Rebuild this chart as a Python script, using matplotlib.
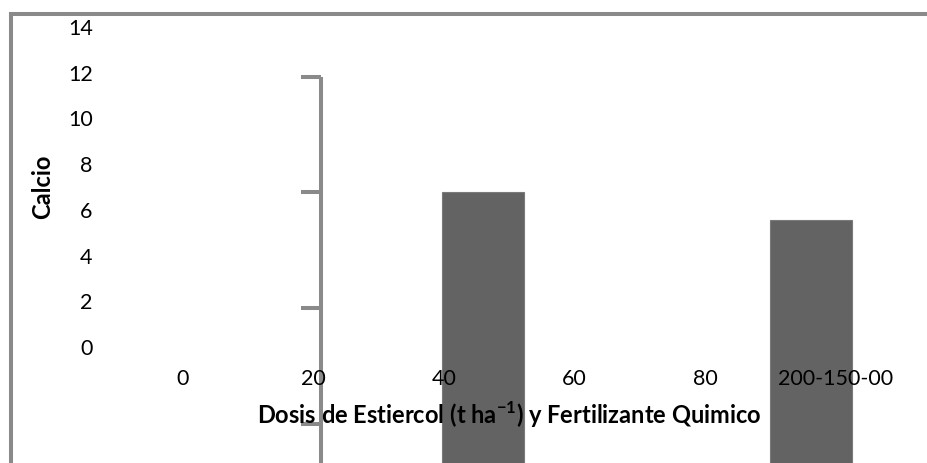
import matplotlib.pyplot as plt
from matplotlib.lines import Line2D
import numpy as np

plt.rcParams['font.family'] = ['Lato', 'DejaVu Sans']
plt.rcParams['mathtext.fontset'] = 'custom'
plt.rcParams['mathtext.rm'] = 'Lato'
plt.rcParams['mathtext.bf'] = 'Lato:bold'

# data
categories = ['0', '20', '40', '60', '80', '200-150-00']
bar_pos = [2.30, 4.81]          # where the two bars sit (category index units)
calcio = [6.78, 5.55]
y_ticks = [0, 2, 4, 6, 8, 10, 12, 14]
# stray second axis left over in the original render
stray_ticks = [11.81, 6.78, 1.71, -3.37]
stray_x = 1.057

grey = '#8a8a8a'
bar_col = '#636363'

fig = plt.figure(figsize=(9.27, 4.63), dpi=100)
# plot area: x from 117.75px to 900.75px, y from 347px (0) to 27px (14)
W, H = 927, 463
ax = fig.add_axes([117.75 / W, 1 - 347 / H, 783 / W, 320 / H])
ax.set_xlim(-0.5, 5.5)
ax.set_ylim(0, 14)
for s in ax.spines.values():
    s.set_visible(False)

ax.bar(bar_pos, np.array(calcio) + 6, bottom=-6, width=0.63,
       color=bar_col, edgecolor='#7a7a7a', linewidth=0.8, clip_on=False, zorder=1)

ax.set_xticks(range(len(categories)))
ax.set_xticklabels(categories)
ax.set_yticks(y_ticks)
ax.tick_params(axis='both', length=0, labelsize=15.5, colors='black')
ax.tick_params(axis='y', pad=18)
ax.tick_params(axis='x', pad=16)

ax.set_xlabel(r'Dosis de Estiercol (t ha$^{\mathbf{-1}}$) y Fertilizante Quimico',
              fontsize=17, fontweight='bold')
ax.xaxis.set_label_coords(0.5, -0.2125)
ax.xaxis.label.set_va('center')
ax.set_ylabel('Calcio', fontsize=17, fontweight='bold')
ax.yaxis.set_label_coords(-0.0955, 0.5)
ax.yaxis.label.set_va('center')

# stray axis line with ticks
ax.plot([stray_x, stray_x], [stray_ticks[0], -6], color=grey, lw=2.9,
        clip_on=False, zorder=1.5, solid_capstyle='butt')
for t in stray_ticks:
    ax.plot([stray_x - 0.153, stray_x], [t, t], color=grey, lw=2.9,
            clip_on=False, zorder=1.5, solid_capstyle='butt')

# outer chart frame
fx, fy = 11 / W, 1 - 14 / H
fig.add_artist(Line2D([fx, fx], [0, fy], transform=fig.transFigure, color=grey, lw=2.9))
fig.add_artist(Line2D([fx, 1], [fy, fy], transform=fig.transFigure, color=grey, lw=2.9))

fig.savefig('out.png', dpi=100)
